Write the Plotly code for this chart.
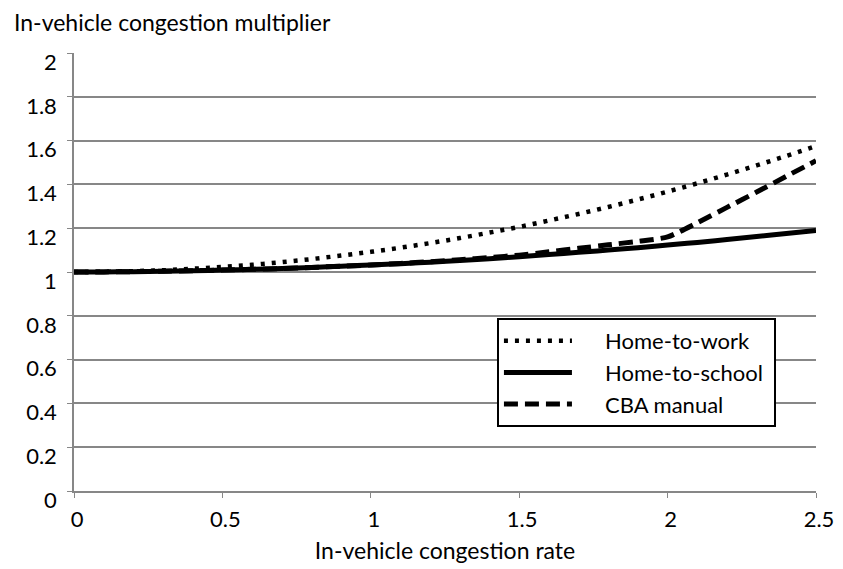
import plotly.graph_objects as go

rate = [0.0, 0.1, 0.2, 0.3, 0.4, 0.5, 0.6, 0.7, 0.8, 0.9, 1.0, 1.1, 1.2,
        1.3, 1.4, 1.5, 1.6, 1.7, 1.8, 1.9, 2.0, 2.1, 2.2, 2.3, 2.4, 2.5]

home_to_work = [1.000, 1.001, 1.004, 1.008, 1.015, 1.023, 1.033, 1.045, 1.059,
                1.075, 1.092, 1.111, 1.132, 1.155, 1.180, 1.206, 1.235, 1.265,
                1.297, 1.331, 1.367, 1.405, 1.445, 1.487, 1.530, 1.575]

home_to_school = [1.000, 1.0005, 1.0017, 1.0034, 1.0057, 1.0086, 1.012, 1.016,
                  1.021, 1.026, 1.032, 1.038, 1.045, 1.053, 1.061, 1.070, 1.080,
                  1.090, 1.100, 1.111, 1.123, 1.135, 1.148, 1.162, 1.176, 1.190]

cba_manual = [1.000, 1.0005, 1.0017, 1.0034, 1.0057, 1.0086, 1.012, 1.016,
              1.021, 1.026, 1.032, 1.039, 1.047, 1.056, 1.066, 1.077, 1.092,
              1.108, 1.124, 1.140, 1.160, 1.225, 1.295, 1.365, 1.437, 1.508]

series_names = ["Home-to-work", "Home-to-school", "CBA manual"]

x_ticks = [0, 0.5, 1, 1.5, 2, 2.5]
x_labels = ["0", "0.5", "1", "1.5", "2", "2.5"]
y_ticks = [0, 0.2, 0.4, 0.6, 0.8, 1.0, 1.2, 1.4, 1.6, 1.8, 2.0]
y_labels = ["0", "0.2", "0.4", "0.6", "0.8", "1", "1.2", "1.4", "1.6", "1.8", "2"]

FONT = "Lato, Open Sans, sans-serif"
GRAY = "#878787"
NB = "\u00a0"


def legend_name(s):
    return NB * 5 + s + NB


fig = go.Figure()
fig.add_trace(go.Scatter(x=rate, y=home_to_work, mode="lines", name=legend_name(series_names[0]),
                         line=dict(color="black", width=4.5, dash="4px,7px", shape="spline")))
fig.add_trace(go.Scatter(x=rate, y=home_to_school, mode="lines", name=legend_name(series_names[1]),
                         line=dict(color="black", width=5, shape="spline")))
fig.add_trace(go.Scatter(x=rate, y=cba_manual, mode="lines", name=legend_name(series_names[2]),
                         line=dict(color="black", width=5, dash="14px,7px", shape="spline", smoothing=0.6)))

fig.update_layout(
    width=835, height=561,
    margin=dict(l=66, r=27, t=45, b=78),
    paper_bgcolor="white", plot_bgcolor="white",
    font=dict(family=FONT, color="black", size=22),
    showlegend=True,
    legend=dict(x=0.570, y=0.395, xanchor="left", yanchor="top",
                bordercolor="black", borderwidth=2, bgcolor="white",
                font=dict(size=22, family=FONT), itemwidth=68,
                tracegroupgap=0),
    xaxis=dict(range=[0, 2.5], tickvals=x_ticks, ticktext=x_labels, automargin=False,
               showgrid=False, zeroline=False, showline=True, linecolor=GRAY,
               linewidth=1.5, ticks="outside", ticklen=5, tickcolor=GRAY,
               tickfont=dict(size=22, family=FONT), ticklabelshift=3,
               ticklabelstandoff=3,
               title=dict(text="In-vehicle congestion rate", font=dict(size=23, family=FONT), standoff=12)),
    yaxis=dict(range=[0, 2], tickvals=y_ticks, ticktext=y_labels, automargin=False,
               showgrid=True, gridcolor=GRAY, gridwidth=1.5, zeroline=False,
               showline=True, linecolor=GRAY, linewidth=1.5,
               ticks="outside", ticklen=5, tickcolor=GRAY,
               tickfont=dict(size=22, family=FONT), ticklabelshift=9,
               ticklabelstandoff=6),
    annotations=[dict(text="In-vehicle congestion multiplier", xref="paper", yref="paper",
                      x=-0.0836, y=1.0708, xanchor="left", yanchor="middle", showarrow=False,
                      font=dict(size=23, family=FONT))],
)

fig.write_html("out.html")
